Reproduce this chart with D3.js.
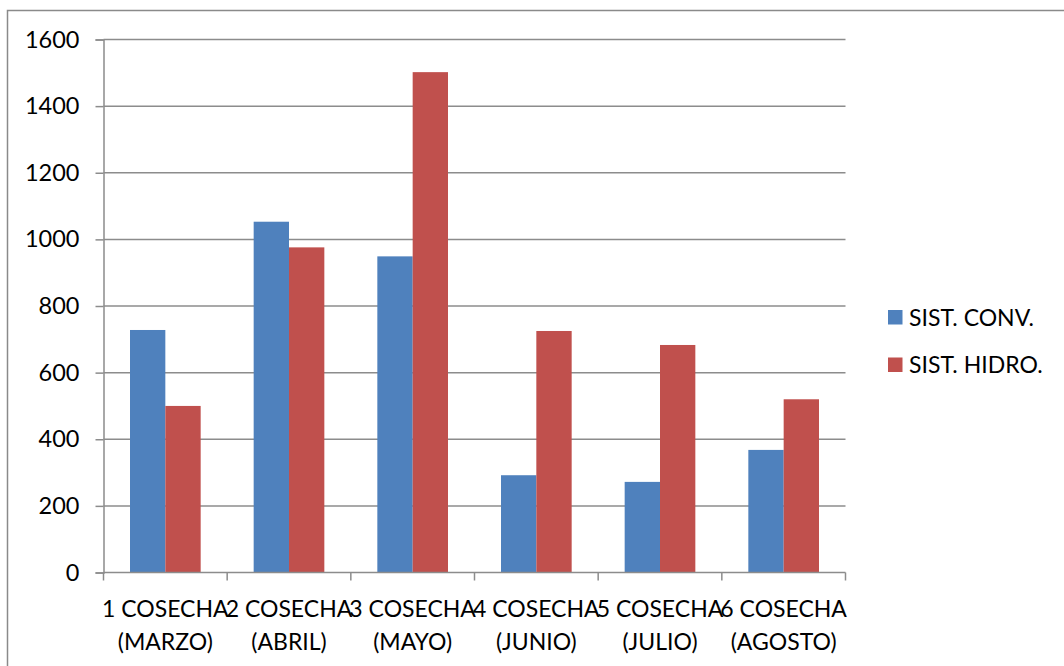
<!DOCTYPE html>
<html>
<head>
<meta charset="utf-8">
<script src="https://cdn.jsdelivr.net/npm/d3@7/dist/d3.min.js"></script>
<style>
  html, body { margin: 0; padding: 0; background: #fff; }
  svg { display: block; }
  text { font-family: Lato, "Open Sans", sans-serif; fill: #000; }
</style>
</head>
<body>
<svg id="chart" width="1064" height="666"></svg>
<script>
// Harvest data: production per harvest for each growing system
const categories = [
  ["1 COSECHA", "(MARZO)"],
  ["2 COSECHA", "(ABRIL)"],
  ["3 COSECHA", "(MAYO)"],
  ["4 COSECHA", "(JUNIO)"],
  ["5 COSECHA", "(JULIO)"],
  ["6 COSECHA", "(AGOSTO)"]
];
const seriesNames = ["SIST. CONV.", "SIST. HIDRO."];
const convValues = [728, 1053, 949, 292, 272, 368];
const hidroValues = [500, 976, 1502, 725, 683, 520];
const yTicks = [0, 200, 400, 600, 800, 1000, 1200, 1400, 1600];

const colors = ["#4F81BD", "#C0504D"];
const gridColor = "#8c8c8c";

const svg = d3.select("#chart");

// Outer chart frame (only top and left edges fall inside the view)
svg.append("rect")
  .attr("x", 7.5).attr("y", 10.5)
  .attr("width", 1200).attr("height", 800)
  .attr("fill", "none")
  .attr("stroke", "#8a8a8a")
  .attr("stroke-width", 1.5);

const plot = { left: 103.5, right: 845.5, top: 39.5, bottom: 572.5 };

const x = d3.scaleBand()
  .domain(d3.range(categories.length))
  .range([plot.left, plot.right])
  .paddingInner(0).paddingOuter(0);

// two bars per group, gap of 1.5 bar widths shared between neighbours
const bw = x.bandwidth() / 3.5;
const xs = d3.scaleBand()
  .domain([0, 1])
  .range([bw * 0.75, bw * 2.75]);

const y = d3.scaleLinear()
  .domain([0, 1600])
  .range([plot.bottom, plot.top]);

// horizontal gridlines
svg.append("g")
  .selectAll("line")
  .data(yTicks.filter(d => d > 0))
  .join("line")
  .attr("x1", plot.left).attr("x2", plot.right)
  .attr("y1", d => y(d)).attr("y2", d => y(d))
  .attr("stroke", gridColor)
  .attr("stroke-width", 1.5);

// bars
const series = [convValues, hidroValues];
series.forEach((vals, si) => {
  svg.append("g")
    .selectAll("rect")
    .data(vals)
    .join("rect")
    .attr("x", (d, i) => x(i) + xs(si))
    .attr("y", d => y(d))
    .attr("width", xs.bandwidth())
    .attr("height", d => y(0) - y(d))
    .attr("fill", colors[si]);
});

// Y axis
const yAxis = svg.append("g")
  .attr("transform", `translate(${plot.left},0)`)
  .call(d3.axisLeft(y).tickValues(yTicks).tickSize(8).tickPadding(16).tickFormat(d3.format("d")));
yAxis.select(".domain").attr("stroke", gridColor).attr("stroke-width", 1.5);
yAxis.selectAll(".tick line").attr("stroke", gridColor).attr("stroke-width", 1.5);
yAxis.selectAll(".tick text")
  .style("font-family", "Lato, sans-serif")
  .style("font-size", "23.5px")
  .attr("fill", "#000");

// X axis: ticks at group boundaries
const xEdges = d3.range(categories.length + 1).map(i => plot.left + i * x.step());
const xAxis = svg.append("g");
xAxis.append("line")
  .attr("x1", plot.left).attr("x2", plot.right)
  .attr("y1", plot.bottom).attr("y2", plot.bottom)
  .attr("stroke", gridColor).attr("stroke-width", 1.5);
xAxis.selectAll("line.tk")
  .data(xEdges)
  .join("line")
  .attr("class", "tk")
  .attr("x1", d => d).attr("x2", d => d)
  .attr("y1", plot.bottom).attr("y2", plot.bottom + 8)
  .attr("stroke", gridColor).attr("stroke-width", 1.5);

const labels = svg.append("g")
  .selectAll("text")
  .data(categories)
  .join("text")
  .attr("text-anchor", "middle")
  .style("font-size", "23px");
labels.each(function(lines, i) {
  const t = d3.select(this);
  lines.forEach((ln, k) => {
    t.append("tspan")
      .attr("x", x(i) + x.bandwidth() / 2)
      .attr("y", 617 + k * 33)
      .text(ln);
  });
});

// Legend
const legend = svg.append("g")
  .selectAll("g")
  .data(seriesNames)
  .join("g")
  .attr("transform", (d, i) => `translate(888,${310 + i * 47.5})`);
legend.append("rect")
  .attr("width", 14.5).attr("height", 14.5)
  .attr("fill", (d, i) => colors[i]);
legend.append("text")
  .attr("x", 21).attr("y", 15.5)
  .style("font-size", "23px")
  .text(d => d);
</script>
</body>
</html>
